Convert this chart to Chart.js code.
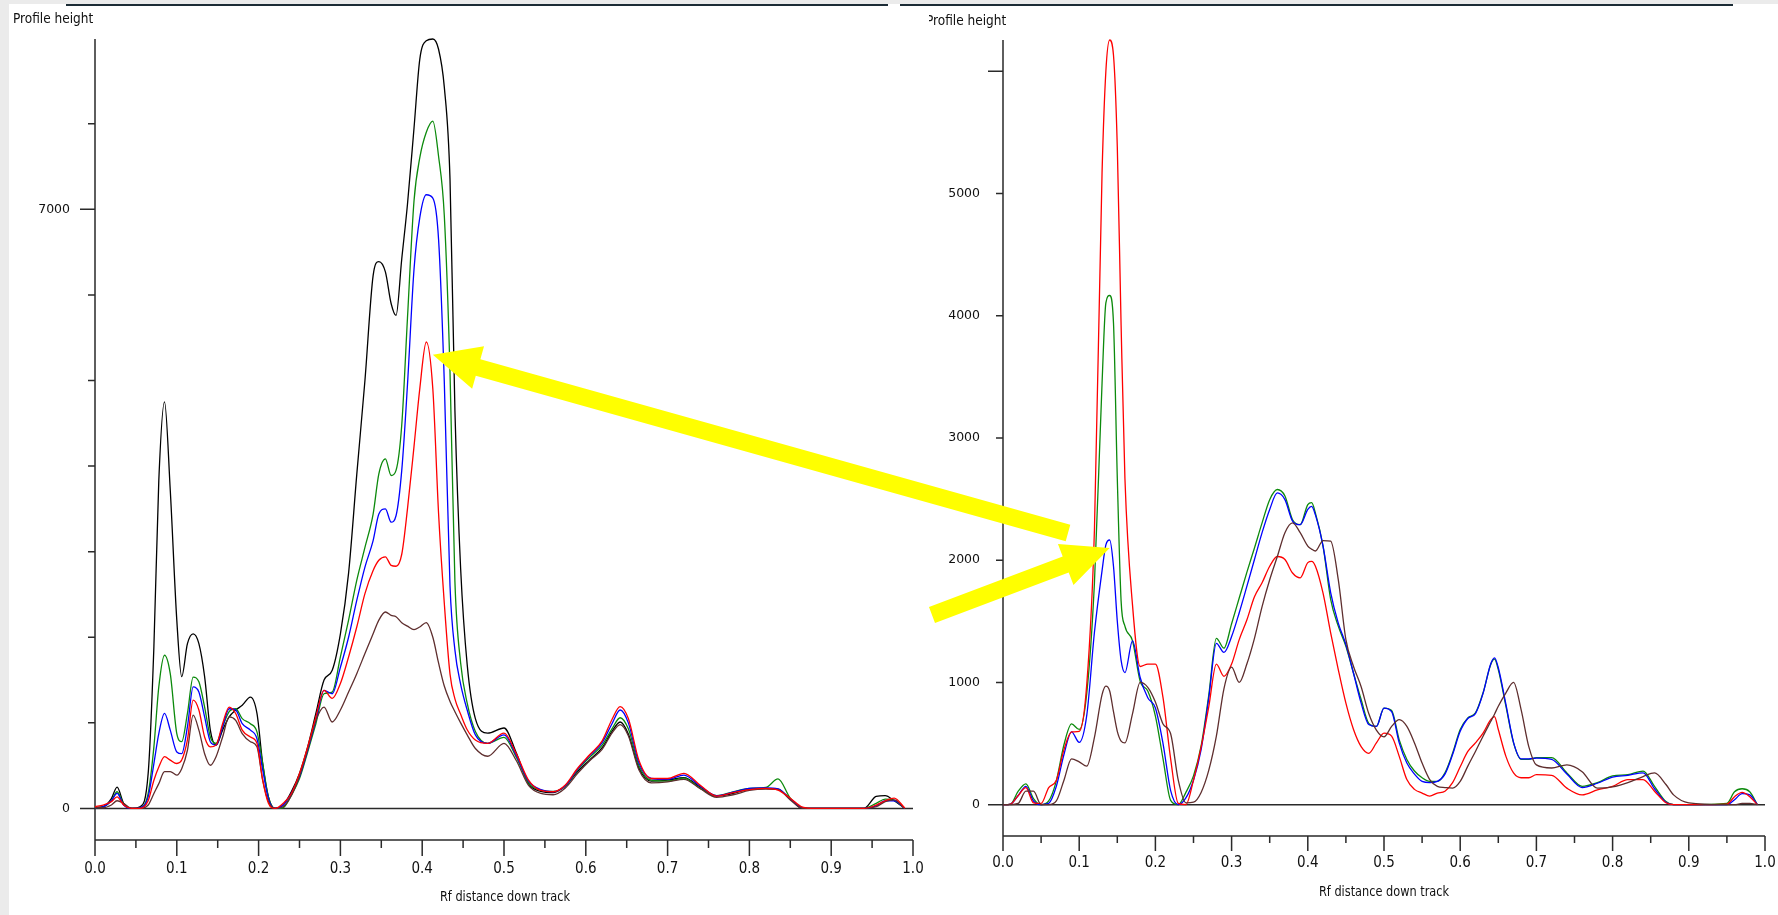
<!DOCTYPE html>
<html lang="en">
<head>
<meta charset="UTF-8">
<title>Profile height - Rf distance down track</title>
<script src="https://cdn.jsdelivr.net/npm/chart.js"></script>
<style>
  html, body { margin: 0; padding: 0; background: #fff; }
  body { width: 1778px; height: 915px; position: relative; overflow: hidden;
         font-family: "Liberation Sans Narrow", "DejaVu Sans Condensed", "Liberation Sans", sans-serif; color: #111; }
  .pane { position: absolute; top: 0; height: 915px; overflow: hidden; }
  .pane canvas { position: absolute; left: 0; top: 0; }
  .ytitle { position: absolute; font-size: 13.5px; line-height: 14px; white-space: nowrap; }
  .xtitle { position: absolute; font-size: 14px; line-height: 16px; white-space: nowrap;
            transform: translateX(-50%) scaleX(0.9); }
  .edge-left { position: absolute; left: 0; top: 0; width: 9px; height: 915px; background: #ebebeb; }
  .edge-top { position: absolute; left: 0; top: 0; width: 1778px; height: 4px; background: #ebebeb; }
  .rule { position: absolute; top: 4px; height: 2px; background: #1c2c36; }
  #arrows { position: absolute; left: 0; top: 0; pointer-events: none; }
</style>
</head>
<body>
  <!-- Left window -->
  <div class="pane" style="left:0; width:930px;">
    <canvas id="leftChart" width="930" height="915"></canvas>
    <div class="ytitle" style="left:13px; top:11px;">Profile height</div>
    <div class="xtitle" style="left:505px; top:888px;">Rf distance down track</div>
  </div>

  <!-- Right window -->
  <div class="pane" style="left:929px; width:849px;">
    <canvas id="rightChart" width="849" height="915"></canvas>
    <div class="ytitle" style="left:-3px; top:13px;">Profile height</div>
    <div class="xtitle" style="left:455px; top:883px;">Rf distance down track</div>
  </div>

  <div class="edge-top"></div>
  <div class="rule" style="left:66px; width:822px;"></div>
  <div class="rule" style="left:900px; width:833px;"></div>
  <div class="edge-left"></div>

  <canvas id="arrows" width="1778" height="915"></canvas>

<script>
// ---- Left plate: Rf positions and profile heights per lane ----
const rfLeft = [0, 0.01, 0.02, 0.027, 0.035, 0.045, 0.055, 0.065, 0.072, 0.078,
  0.085, 0.092, 0.1, 0.106, 0.113, 0.12, 0.127, 0.134, 0.141, 0.148,
  0.156, 0.164, 0.172, 0.18, 0.19, 0.198, 0.205, 0.212, 0.22, 0.23,
  0.24, 0.25, 0.26, 0.27, 0.28, 0.29, 0.3, 0.31, 0.32, 0.33,
  0.34, 0.347, 0.355, 0.362, 0.368, 0.375, 0.382, 0.39, 0.397, 0.405,
  0.413, 0.42, 0.427, 0.434, 0.44, 0.447, 0.455, 0.465, 0.48, 0.5,
  0.515, 0.53, 0.545, 0.56, 0.575, 0.59, 0.605, 0.62, 0.632, 0.642,
  0.652, 0.665, 0.68, 0.7, 0.72, 0.74, 0.76, 0.78, 0.8, 0.82,
  0.835, 0.85, 0.865, 0.88, 0.9, 0.94, 0.955, 0.966, 0.977, 0.99];

const blackLeft = [10, 20, 115, 250, 60, 0, 20, 410, 1890, 3830,
  4750, 3720, 2200, 1540, 1925, 2040, 1925, 1540, 915, 740,
  915, 1070, 1150, 1205, 1300, 1110, 525, 135, 0, 40,
  195, 410, 720, 1110, 1500, 1615, 2040, 2750, 3900, 5000,
  6225, 6390, 6270, 5900, 5760, 6420, 7060, 7950, 8750, 8970,
  8990, 8870, 8430, 7350, 4650, 2800, 1680, 1050, 880, 940,
  650, 290, 200, 185, 265, 430, 570, 710, 900, 1010,
  870, 470, 320, 330, 360, 250, 145, 175, 225, 235,
  225, 110, 0, 0, 0, 0, 140, 150, 90, 0];

const greenLeft = [8, 20, 90, 195, 50, 0, 8, 175, 720, 1420,
  1790, 1575, 875, 780, 1110, 1535, 1480, 1185, 835, 760,
  955, 1130, 1165, 1050, 990, 895, 525, 135, 0, 10,
  155, 350, 660, 990, 1340, 1360, 1770, 2200, 2665, 3050,
  3440, 3910, 4085, 3890, 3950, 4480, 5730, 7100, 7600, 7900,
  8030, 7620, 6930, 5100, 2650, 1700, 1230, 900, 760, 830,
  600, 300, 215, 200, 260, 450, 600, 740, 930, 1060,
  930, 500, 330, 320, 355, 235, 150, 195, 235, 245,
  345, 120, 10, 0, 0, 0, 60, 110, 95, 0];

const blueLeft = [8, 20, 90, 175, 40, 0, 8, 135, 525, 875,
  1110, 915, 660, 640, 955, 1420, 1360, 1070, 780, 740,
  955, 1165, 1150, 990, 915, 815, 450, 115, 0, 40,
  175, 370, 680, 1030, 1380, 1340, 1650, 2000, 2430, 2820,
  3130, 3440, 3500, 3345, 3420, 3950, 4950, 6300, 6900, 7170,
  7130, 6650, 4990, 2600, 1850, 1450, 1150, 860, 760, 860,
  620, 320, 220, 195, 265, 460, 620, 770, 990, 1150,
  1000, 530, 350, 340, 390, 260, 150, 190, 235, 240,
  230, 110, 5, 0, 0, 0, 30, 90, 90, 0];

const redLeft = [20, 40, 80, 135, 40, 0, 0, 90, 330, 485,
  605, 565, 525, 565, 800, 1265, 1150, 835, 720, 740,
  990, 1185, 1110, 915, 835, 760, 330, 60, 0, 60,
  175, 410, 720, 1070, 1380, 1285, 1460, 1770, 2120, 2510,
  2780, 2900, 2940, 2840, 2830, 2970, 3500, 4230, 4900, 5450,
  4900, 3450, 2400, 1570, 1280, 1100, 920, 800, 760, 880,
  640, 330, 210, 195, 275, 470, 630, 790, 1040, 1190,
  1050, 560, 350, 350, 410, 270, 145, 185, 220, 235,
  215, 120, 15, 0, 0, 0, 40, 90, 120, 5];

const brownLeft = [8, 8, 40, 90, 60, 0, 0, 40, 175, 290,
  430, 430, 390, 465, 680, 1090, 915, 640, 505, 605,
  835, 1070, 1030, 875, 780, 720, 330, 80, 0, 20,
  150, 380, 690, 1030, 1185, 1010, 1150, 1360, 1575, 1810,
  2040, 2200, 2295, 2255, 2240, 2170, 2130, 2090, 2120, 2170,
  2000, 1700, 1430, 1250, 1130, 1000, 860, 700, 610, 760,
  560, 270, 175, 160, 240, 410, 560, 690, 880, 980,
  850, 450, 300, 310, 340, 230, 130, 160, 210, 225,
  220, 100, 0, 0, 0, 0, 20, 80, 100, 0];

// ---- Right plate ----
const rfRight = [0, 0.01, 0.02, 0.03, 0.04, 0.05, 0.06, 0.07, 0.08, 0.09,
  0.1, 0.11, 0.12, 0.13, 0.135, 0.14, 0.145, 0.15, 0.155, 0.16,
  0.17, 0.18, 0.19, 0.2, 0.21, 0.22, 0.23, 0.24, 0.25, 0.26,
  0.27, 0.28, 0.29, 0.3, 0.31, 0.32, 0.33, 0.34, 0.35, 0.36,
  0.37, 0.38, 0.39, 0.4, 0.405, 0.41, 0.42, 0.43, 0.44, 0.45,
  0.46, 0.47, 0.48, 0.49, 0.5, 0.51, 0.52, 0.53, 0.54, 0.55,
  0.56, 0.57, 0.58, 0.59, 0.6, 0.61, 0.62, 0.63, 0.64, 0.645,
  0.65, 0.66, 0.67, 0.68, 0.69, 0.7, 0.72, 0.74, 0.76, 0.78,
  0.8, 0.82, 0.84, 0.855, 0.87, 0.88, 0.9, 0.95, 0.96, 0.97,
  0.98, 0.99];

const redRight = [0, 5, 75, 140, 15, 10, 140, 200, 450, 595,
  600, 990, 2250, 5170, 6000, 6255, 6130, 5380, 3920, 2670,
  1630, 1130, 1150, 1150, 875, 375, 10, 0, 200, 470,
  800, 1150, 1050, 1150, 1350, 1510, 1700, 1815, 1950, 2030,
  2005, 1895, 1855, 1980, 1990, 1950, 1730, 1405, 1105, 830,
  615, 475, 420, 505, 585, 560, 395, 205, 125, 95,
  70, 95, 110, 180, 310, 435, 505, 585, 695, 720,
  615, 395, 260, 220, 220, 245, 240, 135, 80, 120,
  150, 205, 205, 110, 15, 0, 0, 5, 65, 100,
  65, 0];

const greenRight = [0, 5, 110, 170, 50, 0, 30, 195, 490, 660,
  615, 915, 1815, 3450, 4105, 4165, 3940, 2670, 1665, 1460,
  1340, 1010, 930, 725, 375, 35, 0, 100, 235, 480,
  895, 1360, 1280, 1480, 1690, 1900, 2100, 2305, 2495, 2578,
  2525, 2330, 2290, 2455, 2470, 2385, 2115, 1680, 1460, 1295,
  1075, 860, 665, 640, 790, 770, 530, 370, 275, 220,
  190, 190, 260, 420, 615, 710, 750, 915, 1145, 1190,
  1105, 805, 505, 370, 370, 385, 385, 260, 150, 180,
  235, 245, 275, 150, 25, 0, 0, 10, 105, 130,
  105, 0];

const blueRight = [0, 5, 75, 150, 30, 0, 10, 150, 410, 595,
  510, 735, 1410, 1915, 2125, 2165, 1950, 1500, 1180, 1080,
  1340, 1040, 875, 790, 500, 115, 0, 55, 200, 450,
  870, 1320, 1245, 1375, 1570, 1785, 2005, 2225, 2415, 2550,
  2495, 2320, 2290, 2415, 2440, 2370, 2115, 1735, 1485, 1310,
  1075, 830, 655, 640, 790, 760, 505, 340, 250, 190,
  180, 190, 250, 410, 600, 705, 745, 910, 1150, 1200,
  1120, 820, 510, 375, 375, 380, 370, 250, 140, 175,
  225, 240, 260, 130, 20, 0, 0, 0, 40, 90,
  80, 0];

const brownRight = [0, 0, 10, 110, 110, 0, 0, 30, 200, 375,
  350, 315, 550, 900, 970, 930, 760, 600, 520, 505,
  745, 1000, 960, 840, 660, 580, 200, 15, 20, 100,
  280, 560, 950, 1125, 1000, 1150, 1360, 1620, 1840, 2030,
  2225, 2305, 2225, 2115, 2090, 2075, 2160, 2155, 1840, 1350,
  1130, 965, 745, 610, 555, 640, 695, 640, 505, 340,
  205, 150, 140, 135, 190, 315, 435, 560, 680, 740,
  805, 915, 1000, 775, 475, 325, 300, 325, 270, 135,
  145, 180, 230, 260, 165, 80, 15, 0, 0, 10,
  10, 0];

// tick labels
const rfTickLabels = ['0.0', '0.1', '0.2', '0.3', '0.4', '0.5', '0.6', '0.7', '0.8', '0.9', '1.0'];
const leftHeightLabels = [0, 7000];
const rightHeightLabels = [0, 1000, 2000, 3000, 4000, 5000];
const leftLongTicks = [0, 7000];
const rightLongTicks = [0, 6000];

const laneColors = {
  black: '#000000', green: '#0c8a0c', blue: '#0000ff', red: '#ff0000', brown: '#5e2e2e'
};

const pts = (xs, ys) => xs.map((x, i) => ({ x: x, y: ys[i] }));

function lane(xs, ys, color) {
  return {
    data: pts(xs, ys),
    borderColor: color,
    borderWidth: 1.3,
    pointRadius: 0,
    fill: false,
    cubicInterpolationMode: 'monotone',
    clip: 6
  };
}

// Axes are drawn by hand so the tick layout follows the densitometer's own style
const profileAxes = {
  id: 'profileAxes',
  beforeDatasetsDraw(chart, args, o) {
    const ctx = chart.ctx;
    const a = chart.chartArea;
    const x = chart.scales.x, y = chart.scales.y;
    const y0 = y.getPixelForValue(0);
    ctx.save();
    ctx.strokeStyle = '#2a2a2a';
    ctx.lineWidth = 1.5;
    ctx.beginPath();
    ctx.moveTo(a.left, a.top);
    ctx.lineTo(a.left, a.bottom + o.majorX);
    ctx.moveTo(a.left - o.majorY, y0);
    ctx.lineTo(x.getPixelForValue(1), y0);
    ctx.moveTo(a.left, a.bottom);
    ctx.lineTo(x.getPixelForValue(1), a.bottom);
    for (let i = 1; i <= 20; i++) {
      const px = x.getPixelForValue(i / 20);
      ctx.moveTo(px, a.bottom);
      ctx.lineTo(px, a.bottom + (i % 2 === 0 ? o.majorX : o.minorX));
    }
    for (let v = 1000; v <= y.max; v += 1000) {
      const py = y.getPixelForValue(v);
      ctx.moveTo(a.left - (o.longTicks.includes(v) ? o.majorY : o.minorY), py);
      ctx.lineTo(a.left, py);
    }
    ctx.stroke();

    ctx.fillStyle = '#111';
    ctx.textBaseline = 'middle';
    ctx.textAlign = 'center';
    ctx.font = '15px "Liberation Sans Narrow", "DejaVu Sans Condensed", sans-serif';
    rfTickLabels.forEach(t => ctx.fillText(t, x.getPixelForValue(parseFloat(t)), a.bottom + o.labelGap));
    ctx.textAlign = 'right';
    ctx.font = '12.5px "DejaVu Sans", sans-serif';
    o.heightLabels.forEach(v => ctx.fillText(String(v), a.left - o.labelOffset, y.getPixelForValue(v)));
    ctx.restore();
  }
};

function makePlate(id, xs, lanes, pad, axisOpts) {
  const all = lanes.flatMap(l => l.ys);
  const top = Math.max(...all);
  return new Chart(document.getElementById(id), {
    type: 'line',
    data: { datasets: lanes.map(l => lane(xs, l.ys, l.color)) },
    options: {
      responsive: false,
      animation: false,
      events: [],
      layout: { padding: pad },
      scales: {
        x: { type: 'linear', min: 0, max: 1, display: false },
        y: { min: -top * 0.041, max: top, display: false }
      },
      plugins: { legend: { display: false }, tooltip: { enabled: false }, profileAxes: axisOpts }
    },
    plugins: [profileAxes]
  });
}

// first dataset ends up drawn on top
const leftChart = makePlate('leftChart', rfLeft, [
  { ys: redLeft, color: laneColors.red },
  { ys: brownLeft, color: laneColors.brown },
  { ys: blueLeft, color: laneColors.blue },
  { ys: greenLeft, color: laneColors.green },
  { ys: blackLeft, color: laneColors.black }
], { left: 95, right: 17, top: 39, bottom: 75 }, {
  majorX: 16, minorX: 8, majorY: 15, minorY: 7, labelGap: 29, labelOffset: 25,
  heightLabels: leftHeightLabels, longTicks: leftLongTicks
});

const rightChart = makePlate('rightChart', rfRight, [
  { ys: brownRight, color: laneColors.brown },
  { ys: redRight, color: laneColors.red },
  { ys: blueRight, color: laneColors.blue },
  { ys: greenRight, color: laneColors.green }
], { left: 74, right: 13, top: 40, bottom: 79 }, {
  majorX: 15, minorX: 7, majorY: 15, minorY: 7, labelGap: 27, labelOffset: 23,
  heightLabels: rightHeightLabels, longTicks: rightLongTicks
});

// Yellow call-out arrows linking the matching band on both plates
function arrow(ctx, tail, tip, shaft, headLen, headHalf) {
  const dx = tip.x - tail.x, dy = tip.y - tail.y;
  const len = Math.hypot(dx, dy);
  const ux = dx / len, uy = dy / len, nx = -uy, ny = ux;
  const bx = tip.x - ux * headLen, by = tip.y - uy * headLen;
  const s = shaft / 2;
  ctx.beginPath();
  ctx.moveTo(tail.x + nx * s, tail.y + ny * s);
  ctx.lineTo(bx + nx * s, by + ny * s);
  ctx.lineTo(bx + nx * headHalf, by + ny * headHalf);
  ctx.lineTo(tip.x, tip.y);
  ctx.lineTo(bx - nx * headHalf, by - ny * headHalf);
  ctx.lineTo(bx - nx * s, by - ny * s);
  ctx.lineTo(tail.x - nx * s, tail.y - ny * s);
  ctx.closePath();
  ctx.fill();
}

const rightOffset = 929;
const ac = document.getElementById('arrows').getContext('2d');
ac.fillStyle = '#ffff00';
arrow(ac, { x: 1068, y: 533 },
  { x: leftChart.scales.x.getPixelForValue(0.413), y: leftChart.scales.y.getPixelForValue(5300) },
  17, 47, 22);
arrow(ac, { x: 932, y: 615 },
  { x: rightOffset + rightChart.scales.x.getPixelForValue(0.14), y: rightChart.scales.y.getPixelForValue(2100) },
  17, 47, 22);
</script>
</body>
</html>
